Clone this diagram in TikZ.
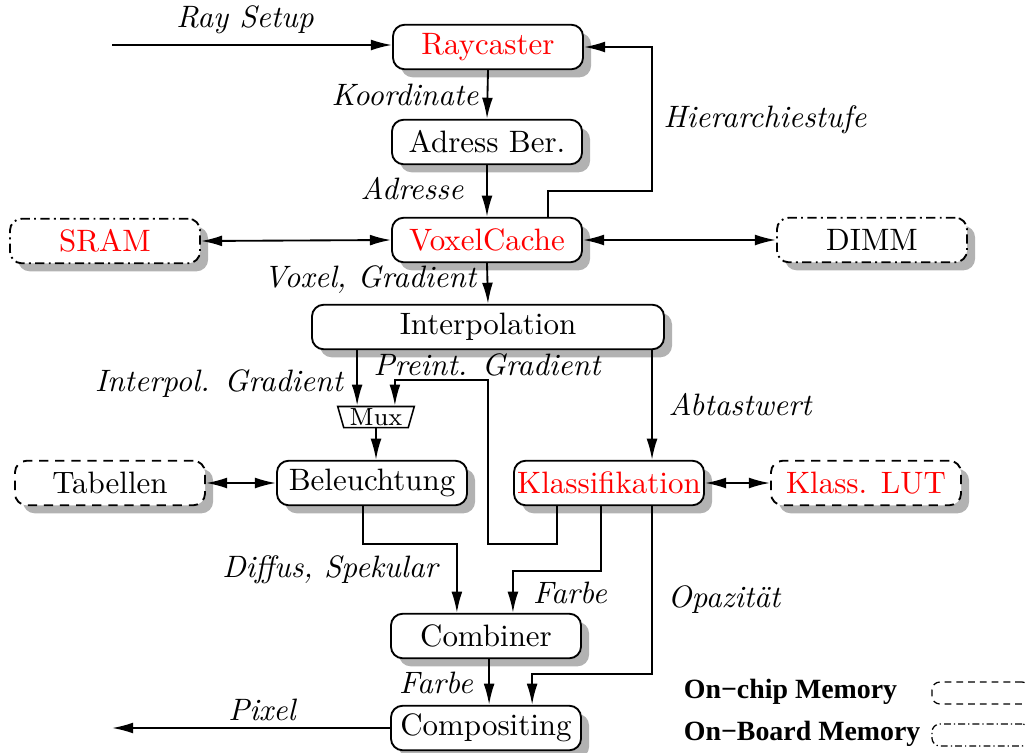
\documentclass[tikz,border=0pt]{standalone}
\usepackage{fontspec}
\newfontfamily\legendfont{Liberation Serif}
\usetikzlibrary{arrows.meta,shadows,shapes.geometric}
\begin{document}
\begin{tikzpicture}[x=0.323pt,y=-0.323pt,
  >={Latex[length=6.8pt,width=3.5pt]},
  line width=0.6pt,
  box/.style={draw, fill=white, rounded corners=3.8pt, minimum width=61.4pt,
    minimum height=14.4pt, inner sep=1pt,
    drop shadow={shadow xshift=2.6pt, shadow yshift=-2.6pt, fill=black!30, opacity=1}},
  redbox/.style={box, text=red},
  chipmem/.style={box, dash pattern=on 3pt off 2.2pt},
  boardmem/.style={box, dash pattern=on 3pt off 1.4pt on 0.6pt off 1.4pt},
  lab/.style={font=\itshape, inner sep=1pt},
  legtext/.style={font=\legendfont\bfseries\fontsize{9}{11}\selectfont, anchor=west, inner sep=0pt},
  legbox/.style={draw, rounded corners=2.6pt, minimum width=31.7pt, minimum height=7.1pt, line width=0.4pt}]
\useasboundingbox (0,0) rectangle (1025,753);
\clip (0,0) rectangle (1025,753);

% processing units
\node[redbox] (ray) at (488,47) {Raycaster};
\node[box] (adr) at (487,142) {Adress Ber.};
\node[redbox] (vc) at (487,240) {VoxelCache};
\node[boardmem, text=red] (sram) at (105,241) {SRAM};
\node[boardmem] (dimm) at (872,240) {DIMM};
\node[box, minimum width=113.7pt] (interp) at (488,327) {Interpolation};
\node[draw, fill=white, trapezium, trapezium left angle=106, trapezium right angle=106,
  font=\footnotesize, inner xsep=0pt, inner ysep=0pt, minimum height=6.8pt,
  line width=0.5pt] (mux) at (376,417) {Mux};
\node[chipmem] (tab) at (110,483) {Tabellen};
\node[box] (bel) at (372,483) {Beleuchtung};
\node[redbox] (kl) at (609,483) {Klassifikation};
\node[chipmem, text=red] (lut) at (866,483) {Klass. LUT};
\node[box] (comb) at (486,636) {Combiner};
\node[box] (comp) at (486,728) {Compositing};

% free ends
\coordinate (raysrc) at (112,45);
\coordinate (pixdst) at (112,728);

% connectors
\draw[->] (raysrc) -- (raysrc -| ray.west);
\draw[->] (ray.south) -- (adr.north);
\draw[->] (adr.south) -- (vc.north);
\draw[->] ([xshift=19.7pt]vc.north) -- ++(0,-26) -- ++(104,0) |- (ray.east);
\draw[<->] (sram.east) -- (vc.west);
\draw[<->] (vc.east) -- (dimm.west);
\draw[->] (vc.south) -- (interp.north);
\draw[->] ([xshift=-6.1pt]mux.north |- interp.south) -- ([xshift=-6.1pt]mux.north);
\draw[->] ([xshift=-16.8pt]kl.south) -- ++(0,38) -- ++(-69,0) -- ++(0,-164) -| ([xshift=6.1pt]mux.north);
\draw[->] (mux.south) -- (mux.south |- bel.north);
\draw[->] ([xshift=13.9pt]kl.north |- interp.south) -- ([xshift=13.9pt]kl.north);
\draw[<->] (tab.east) -- (bel.west);
\draw[<->] (kl.east) -- (lut.west);
\draw[->] ([xshift=-2.9pt]bel.south) -- ++(0,38) -| ([xshift=-9.4pt]comb.north);
\draw[->] ([xshift=-2.6pt]kl.south) -- ++(0,65) -| ([xshift=8.7pt]comb.north);
\draw[->] ([xshift=13.9pt]kl.south) -- ++(0,168) -| ([xshift=14.9pt]comp.north);
\draw[->] ([xshift=1pt]comb.south) -- ([xshift=1pt]comp.north);
\draw[->] (comp.west) -- (pixdst);

% connector labels
\node[lab] (lray) at (245,20) {Ray Setup};
\node[lab] (lkoord) at (405,95) {Koordinate};
\node[lab] (ladr) at (412,189) {Adresse};
\node[lab] (lhier) at (765,120) {Hierarchiestufe};
\node[lab] (lvox) at (370,280) {Voxel, Gradient};
\node[lab] (lipg) at (219,384) {Interpol. Gradient};
\node[lab] (lprg) at (487,365) {Preint. Gradient};
\node[lab] (labt) at (740,405) {Abtastwert};
\node[lab] (ldiff) at (330,570) {Diffus, Spekular};
\node[lab] (lfarbe1) at (570,593) {Farbe};
\node[lab] (lopaz) at (724,600) {Opazität};
\node[lab] (lfarbe2) at (436,683) {Farbe};
\node[lab] (lpix) at (262,710) {Pixel};

% legend
\node[legtext] (lgchip) at (683,692) {On−chip Memory};
\node[legtext] (lgboard) at (683,734) {On−Board Memory};
\node[legbox, dash pattern=on 2.2pt off 1.6pt] (lgchipbox) at (981,693) {};
\node[legbox, dash pattern=on 2.2pt off 1pt on 0.4pt off 1pt] (lgboardbox) at (981,735) {};
\end{tikzpicture}
\end{document}
